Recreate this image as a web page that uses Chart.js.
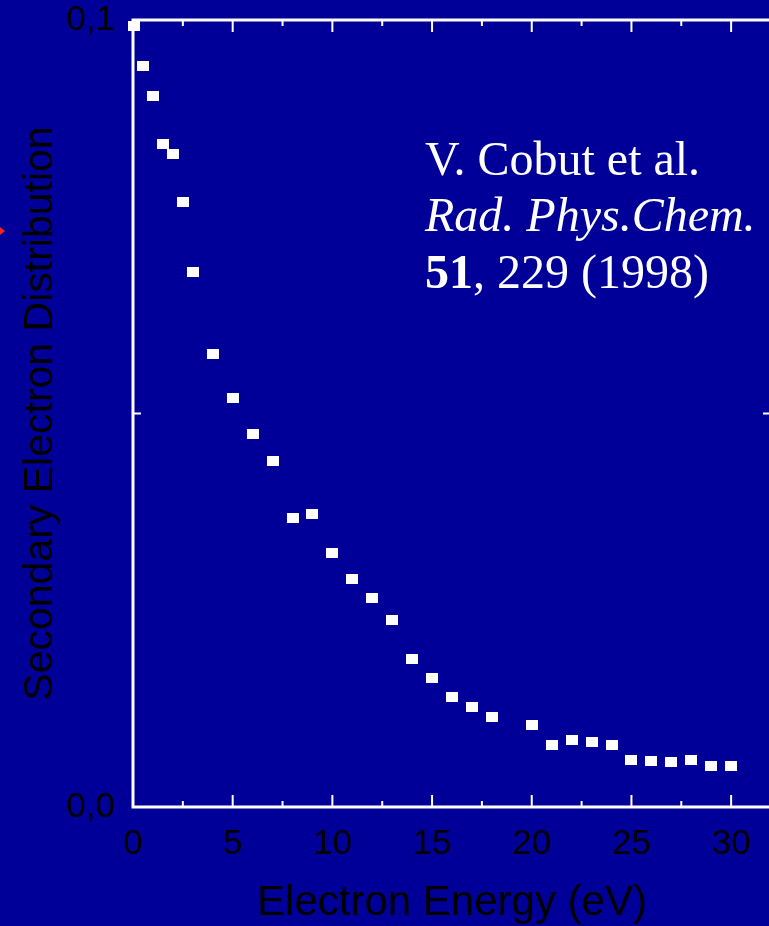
<!DOCTYPE html>
<html>
<head>
<meta charset="utf-8">
<title>Secondary Electron Distribution</title>
<script src="https://cdn.jsdelivr.net/npm/chart.js@4.4.1/dist/chart.umd.min.js"></script>
<style>
  html, body { margin: 0; padding: 0; background: #000099; overflow: hidden; }
  #area { width: 780px; height: 926px; }
</style>
</head>
<body>
<div id="area"><canvas id="graficoDistribuicao"></canvas></div>
<script>
// energia do electrão (eV) e distribuição dos electrões secundários
const energias = [0.05, 0.5, 1, 1.5, 2, 2.5, 3, 4, 5, 6, 7, 8, 9, 10, 11, 12, 13, 14, 15, 16, 17, 18,
  20, 21, 22, 23, 24, 25, 26, 27, 28, 29, 30];
const distribuicao = [0.0992, 0.0942, 0.0903, 0.0842, 0.0830, 0.0769, 0.0680, 0.0576, 0.0520, 0.0474,
  0.0440, 0.0367, 0.0372, 0.0323, 0.0290, 0.0266, 0.0238, 0.0188, 0.0164, 0.0140, 0.0127, 0.0114,
  0.0104, 0.0079, 0.0085, 0.0083, 0.0079, 0.0060, 0.0058, 0.0057, 0.0060, 0.0052, 0.0052];

const tituloX = "Electron Energy (eV)";
const tituloY = "Secondary Electron Distribution";
const referenciaAutor = "V. Cobut et al.";
const referenciaRevista = "Rad. Phys.Chem.";
const referenciaVolume = "51";
const referenciaPagina = ", 229 (1998)";

const COR_FUNDO = "#000099";
const FONTE = "'Liberation Sans', Arial, sans-serif";
const FONTE_SERIF = "'Liberation Serif', 'Times New Roman', serif";

// marcador rectangular branco
const marcador = document.createElement("canvas");
marcador.width = 12;
marcador.height = 10;
const mctx = marcador.getContext("2d");
mctx.fillStyle = "#ffffff";
mctx.fillRect(0, 0, 12, 10);

const moldura = {
  id: "moldura",
  beforeDraw(chart) {
    const { ctx, width, height } = chart;
    ctx.save();
    ctx.fillStyle = COR_FUNDO;
    ctx.fillRect(0, 0, width, height);
    ctx.restore();
  },
  beforeDatasetsDraw(chart) {
    const { ctx, chartArea: { left, right, top, bottom }, scales: { x, y } } = chart;
    ctx.save();
    ctx.strokeStyle = "#ffffff";
    ctx.lineWidth = 3;
    ctx.strokeRect(left, top, right - left, bottom - top);

    // marcas para dentro
    ctx.lineWidth = 2;
    ctx.beginPath();
    x.ticks.forEach(t => {
      const px = x.getPixelForValue(t.value);
      const comp = t.value % 5 === 0 ? 12 : 6;
      ctx.moveTo(px, bottom);
      ctx.lineTo(px, bottom - comp);
      ctx.moveTo(px, top);
      ctx.lineTo(px, top + comp);
    });
    y.ticks.forEach(t => {
      if (t.value <= y.min || t.value >= y.max) return;
      const py = y.getPixelForValue(t.value);
      ctx.moveTo(left, py);
      ctx.lineTo(left + 8, py);
      ctx.moveTo(right, py);
      ctx.lineTo(right - 8, py);
    });
    ctx.stroke();
    ctx.restore();
  },
  afterDraw(chart) {
    const { ctx } = chart;
    ctx.save();
    ctx.fillStyle = "#ffffff";
    ctx.textBaseline = "alphabetic";
    ctx.textAlign = "left";
    ctx.font = `48px ${FONTE_SERIF}`;
    ctx.fillText(referenciaAutor, 425, 175);
    ctx.font = `italic 48px ${FONTE_SERIF}`;
    ctx.fillText(referenciaRevista, 425, 231);
    ctx.font = `bold 48px ${FONTE_SERIF}`;
    ctx.fillText(referenciaVolume, 425, 288);
    const larguraVolume = ctx.measureText(referenciaVolume).width;
    ctx.font = `48px ${FONTE_SERIF}`;
    ctx.fillText(referenciaPagina, 425 + larguraVolume, 288);

    // ponta de seta vermelha na margem
    ctx.fillStyle = "#ff2020";
    ctx.beginPath();
    ctx.moveTo(0, 227);
    ctx.lineTo(5, 231);
    ctx.lineTo(0, 235);
    ctx.closePath();
    ctx.fill();
    ctx.restore();
  }
};

const ctx = document.getElementById("graficoDistribuicao").getContext("2d");

new Chart(ctx, {
  type: "scatter",
  data: {
    datasets: [
      {
        data: energias.map((e, i) => ({ x: e, y: distribuicao[i] })),
        pointStyle: marcador,
        pointRadius: 6,
        pointHoverRadius: 6,
        clip: false
      }
    ]
  },
  options: {
    responsive: true,
    maintainAspectRatio: false,
    animation: false,
    events: [],
    layout: { padding: { top: 20, right: 9, left: 0, bottom: 0 } },
    plugins: {
      legend: { display: false },
      tooltip: { enabled: false }
    },
    scales: {
      x: {
        type: "linear",
        min: 0,
        max: 32,
        afterFit(scale) {
          scale.height = 119;
          scale.paddingLeft = 0;
          scale.paddingRight = 0;
        },
        grid: { display: false },
        border: { display: false },
        ticks: {
          stepSize: 2.5,
          includeBounds: false,
          autoSkip: false,
          maxRotation: 0,
          padding: 12,
          color: "#000000",
          font: { family: FONTE, size: 35, lineHeight: 1 },
          callback: v => (v % 5 === 0 ? String(v) : "")
        },
        title: {
          display: true,
          text: tituloX,
          color: "#000000",
          font: { family: FONTE, size: 42, lineHeight: 1 },
          padding: { top: 0, bottom: 2 }
        }
      },
      y: {
        min: 0,
        max: 0.1,
        afterFit(scale) {
          scale.width = 133;
          scale.paddingTop = 0;
          scale.paddingBottom = 0;
        },
        grid: { display: false },
        border: { display: false },
        ticks: {
          stepSize: 0.05,
          padding: 10,
          color: "#000000",
          font: { family: FONTE, size: 35, lineHeight: 1 },
          callback: v => (Math.abs(v - 0.05) < 1e-6 ? "" : v.toFixed(1).replace(".", ","))
        },
        title: {
          display: true,
          text: tituloY,
          color: "#000000",
          font: { family: FONTE, size: 41, lineHeight: 1.2 },
          padding: { top: 16, bottom: 0 }
        }
      }
    }
  },
  plugins: [moldura]
});
</script>
</body>
</html>
